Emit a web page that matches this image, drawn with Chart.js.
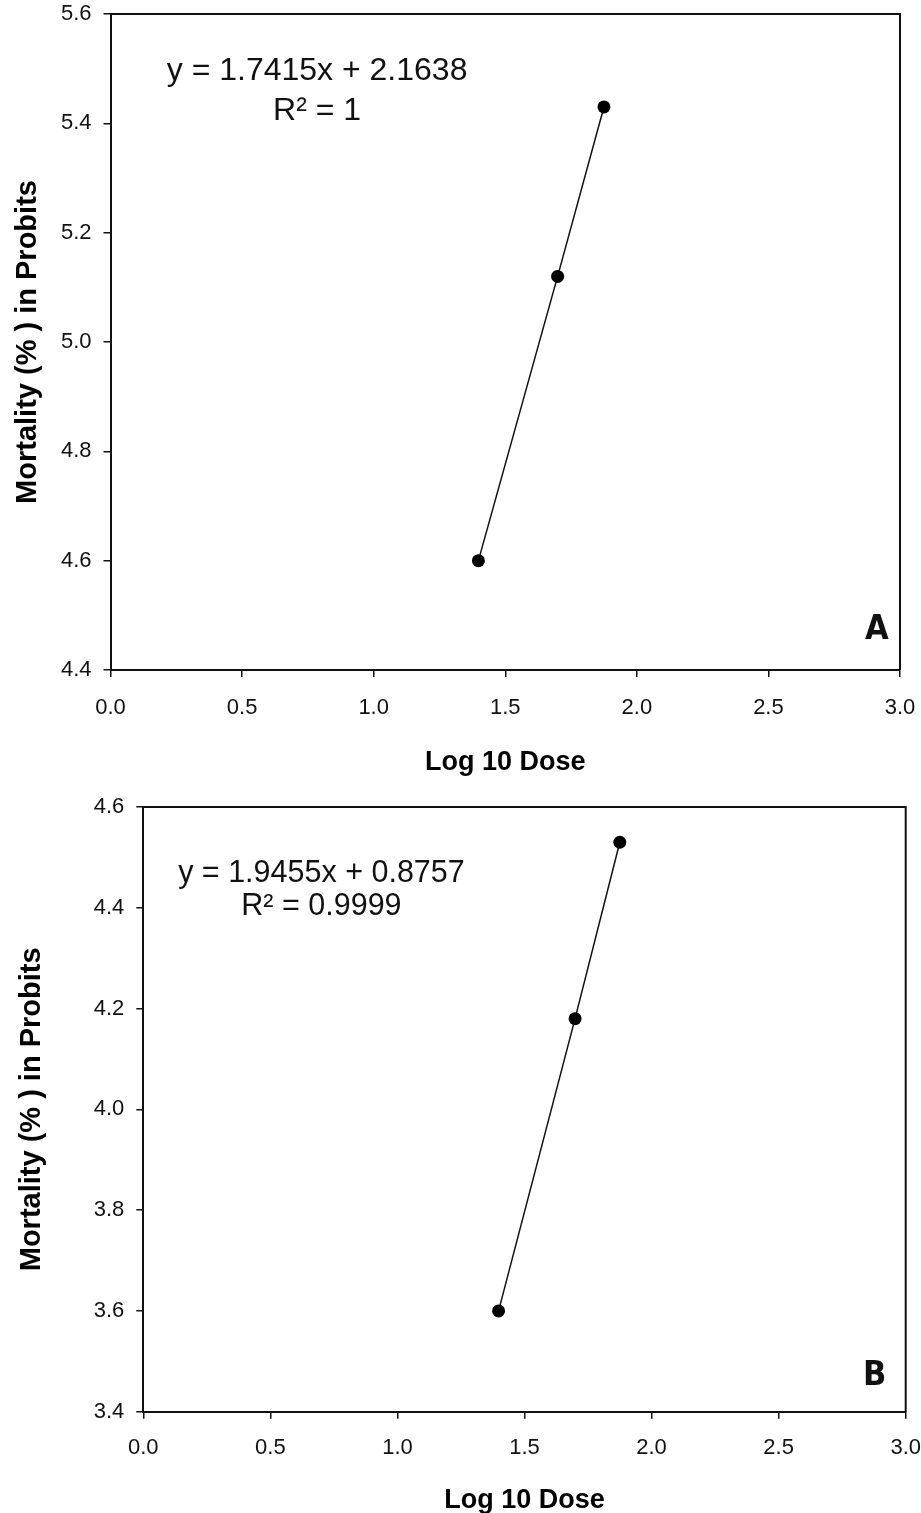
<!DOCTYPE html>
<html>
<head>
<meta charset="utf-8">
<title>Probit regression</title>
<script src="https://cdn.jsdelivr.net/npm/chart.js@4.4.1/dist/chart.umd.min.js"></script>
<style>
  html, body { margin: 0; padding: 0; background: #fff; }
  canvas { display: block; }
</style>
</head>
<body>
<canvas id="chartA" width="921" height="785"></canvas>
<canvas id="chartB" width="921" height="728"></canvas>
<script>
// log10 of the dose and the probit of mortality for each panel
const logDose = [1.398, 1.699, 1.875];
const probitA = [4.60, 5.12, 5.43];
const probitB = [3.60, 4.18, 4.53];

// axis ranges
const xRange = [0, 3.0];
const yRangeA = [4.4, 5.6];
const yRangeB = [3.4, 4.6];

const fitTextA = ['y = 1.7415x + 2.1638', 'R² = 1'];
const fitTextB = ['y = 1.9455x + 0.8757', 'R² = 0.9999'];

const xTitle = 'Log 10 Dose';
const yTitle = 'Mortality (% ) in Probits';

const tickFont = { family: "'Liberation Sans', Arial, sans-serif", size: 22 };
const titleFont = { family: "'Liberation Sans', Arial, sans-serif", size: 27, weight: 'bold' };

// frame on top and right of the plot area
const framePlugin = {
    id: 'frame',
    afterDraw(chart) {
        const { ctx, chartArea: a } = chart;
        ctx.save();
        ctx.strokeStyle = '#111';
        ctx.lineWidth = 2;
        ctx.beginPath();
        ctx.moveTo(a.left, a.top);
        ctx.lineTo(a.right, a.top);
        ctx.lineTo(a.right, a.bottom);
        ctx.stroke();
        ctx.restore();
    }
};

// text placed at data coordinates (equation, R², panel letter), y is the baseline
const notesPlugin = {
    id: 'notes',
    afterDatasetsDraw(chart, args, opts) {
        const { ctx, scales } = chart;
        ctx.save();
        ctx.fillStyle = '#111';
        ctx.textAlign = 'center';
        ctx.textBaseline = 'alphabetic';
        (opts.items || []).forEach((n) => {
            ctx.font = n.font;
            ctx.fillText(n.text, scales.x.getPixelForValue(n.x), scales.y.getPixelForValue(n.y));
        });
        ctx.restore();
    }
};

// keep the plot area where the layout padding puts it (no room reserved for label overhang)
function noOverhang(s) {
    s.paddingTop = 0;
    s.paddingBottom = 0;
    s.paddingLeft = 0;
    s.paddingRight = 0;
}

function buildChart(canvas, ys, yRange, box, notes) {
    return new Chart(canvas, {
        type: 'scatter',
        data: {
            datasets: [{
                data: logDose.map((x, i) => ({ x: x, y: ys[i] })),
                showLine: true,
                borderColor: '#111',
                borderWidth: 1.5,
                backgroundColor: '#000',
                pointRadius: 6.5,
                pointHoverRadius: 6.5,
                pointBorderWidth: 0
            }]
        },
        options: {
            responsive: false,
            animation: false,
            layout: {
                padding: { left: 0, right: box.right, top: box.top, bottom: 0 }
            },
            scales: {
                x: {
                    type: 'linear',
                    min: xRange[0],
                    max: xRange[1],
                    afterFit: (s) => { s.height = box.xHeight; noOverhang(s); },
                    ticks: {
                        stepSize: 0.5,
                        color: '#111',
                        font: tickFont,
                        padding: box.xTickPad,
                        maxRotation: 0,
                        callback: (v) => v.toFixed(1)
                    },
                    grid: { drawOnChartArea: false, drawTicks: true, tickLength: 7, color: '#111', lineWidth: 1.5 },
                    border: { display: true, color: '#111', width: 2 },
                    title: {
                        display: true,
                        text: xTitle,
                        color: '#000',
                        font: titleFont,
                        padding: { top: 0, bottom: box.xTitlePad }
                    }
                },
                y: {
                    type: 'linear',
                    min: yRange[0],
                    max: yRange[1],
                    afterFit: (s) => { s.width = box.yWidth; noOverhang(s); },
                    ticks: {
                        stepSize: 0.2,
                        color: '#111',
                        font: tickFont,
                        padding: 12,
                        callback: (v) => v.toFixed(1)
                    },
                    grid: { drawOnChartArea: false, drawTicks: true, tickLength: 7, color: '#111', lineWidth: 1.5 },
                    border: { display: true, color: '#111', width: 2 },
                    title: {
                        display: true,
                        text: yTitle,
                        color: '#000',
                        font: { family: titleFont.family, size: 29, weight: 'bold' },
                        padding: { top: box.yTitlePad, bottom: 0 }
                    }
                }
            },
            plugins: {
                legend: { display: false },
                tooltip: { enabled: false },
                notes: { items: notes }
            }
        },
        plugins: [framePlugin, notesPlugin]
    });
}

const eqFontA = "32px 'Liberation Sans', Arial, sans-serif";
const eqFontB = "30.5px 'Liberation Sans', Arial, sans-serif";
const letterFont = "bold 34px 'Liberation Sans Narrow', 'DejaVu Sans Condensed', sans-serif";

let chartA = buildChart(document.getElementById('chartA'), probitA, yRangeA,
    { top: 14, right: 21, xHeight: 115, yWidth: 110.5, xTickPad: 18, xTitlePad: 6, yTitlePad: 11 },
    [
        { text: fitTextA[0], x: 0.785, y: 5.479, font: eqFontA },
        { text: fitTextA[1], x: 0.785, y: 5.406, font: eqFontA },
        { text: 'A', x: 2.912, y: 4.457, font: letterFont }
    ]);

let chartB = buildChart(document.getElementById('chartB'), probitB, yRangeB,
    { top: 22, right: 15.3, xHeight: 101.3, yWidth: 143.3, xTickPad: 16, xTitlePad: -3.7, yTitlePad: 15 },
    [
        { text: fitTextB[0], x: 0.701, y: 4.452, font: eqFontB },
        { text: fitTextB[1], x: 0.701, y: 4.386, font: eqFontB },
        { text: 'B', x: 2.878, y: 3.453, font: letterFont }
    ]);
</script>
</body>
</html>
